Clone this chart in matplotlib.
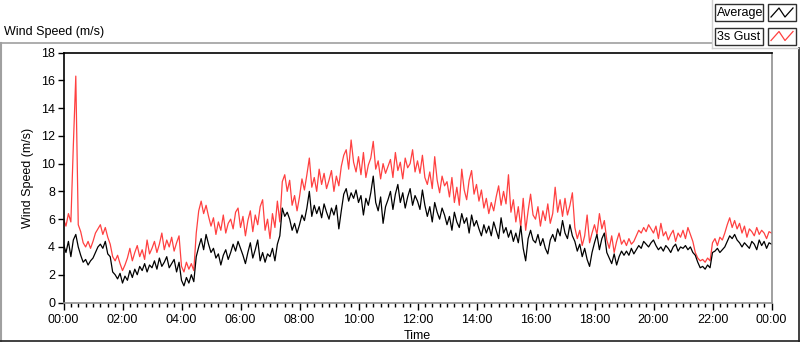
import numpy as np
import matplotlib
matplotlib.use("Agg")
import matplotlib.pyplot as plt
from matplotlib.lines import Line2D
from matplotlib.patches import Rectangle

plt.rcParams['font.family'] = ['Liberation Sans', 'DejaVu Sans']

# ---------------- data (5-minute samples, 00:00 .. 24:00) ----------------
minutes = np.arange(0, 24 * 60 + 1, 5)

average = [
    4.2, 3.6, 4.4, 3.3, 4.5, 4.9, 4.0, 3.4, 2.9, 3.1, 2.7, 3.0,
    3.2, 3.6, 4.0, 4.2, 3.9, 4.4, 3.5, 3.3, 2.2, 2.0, 1.7, 2.1,
    1.4, 1.9, 1.6, 2.3, 1.8, 2.4, 2.0, 2.6, 2.3, 2.8, 2.2, 2.7,
    2.5, 3.0, 2.4, 3.2, 2.6, 2.9, 3.3, 2.5, 2.8, 3.1, 2.2, 2.9,
    1.6, 1.2, 1.8, 1.4, 2.0, 1.5, 3.3, 4.0, 4.6, 3.8, 4.9, 4.2,
    3.6, 3.9, 3.2, 3.5, 2.7, 3.4, 3.8, 3.1, 3.6, 4.2, 3.7, 4.4,
    3.9, 3.4, 2.8, 3.6, 4.3, 3.2, 3.8, 4.5, 3.0, 3.6, 2.9, 3.5,
    3.3, 3.9, 3.0, 4.2, 4.8, 6.8, 6.2, 6.5, 6.0, 5.2, 5.7, 5.0,
    5.6, 6.3, 5.9, 6.8, 8.0, 6.2, 7.0, 6.4, 6.9, 6.1, 7.1, 6.5,
    6.0, 6.8, 6.3, 7.0, 5.3, 6.6, 7.8, 8.2, 7.3, 7.9, 7.5, 8.1,
    7.2, 7.7, 6.3, 7.5, 7.0, 7.9, 9.1, 7.2, 6.6, 7.6, 5.7, 6.9,
    7.4, 8.0, 6.7, 7.8, 8.5, 7.2, 7.9, 6.8, 7.6, 8.2, 7.0, 7.7,
    7.3, 6.7, 8.1, 7.0, 6.2, 6.9, 5.8, 7.2, 6.5, 6.0, 6.8, 6.3,
    5.6, 6.2, 5.2, 6.5, 5.8, 5.4, 6.4, 5.7, 6.1, 5.0, 6.3, 5.5,
    5.9, 5.3, 4.8, 5.6, 5.0, 5.5, 4.8, 5.8, 5.2, 4.6, 6.1, 5.0,
    5.4, 4.7, 5.2, 4.4, 5.0, 4.3, 5.5, 3.9, 3.0, 4.6, 5.2, 4.5,
    4.3, 4.9, 4.1, 4.6, 3.9, 3.5, 4.5, 4.9, 4.4, 5.3, 4.8, 5.9,
    5.0, 4.6, 5.6, 4.8, 4.4, 3.7, 4.2, 3.3, 3.9, 3.1, 2.6, 3.6,
    4.3, 4.9, 3.8, 4.6, 5.0, 3.6, 3.2, 2.8, 3.5, 2.7, 3.3, 3.7,
    3.4, 3.7, 3.4, 3.9, 3.5, 3.8, 4.1, 3.9, 4.4, 4.2, 4.0, 4.3,
    4.5, 4.1, 3.8, 4.0, 3.7, 4.1, 3.9, 3.6, 4.0, 4.2, 3.7, 4.0,
    3.9, 4.1, 3.8, 4.0, 3.6, 3.4, 2.9, 2.5, 2.6, 2.4, 2.7, 2.5,
    3.6, 3.7, 3.9, 3.6, 3.8, 4.0, 4.4, 4.8, 4.6, 4.9, 4.5, 4.3,
    4.0, 4.3, 4.1, 3.9, 4.4, 4.2, 3.8, 4.5, 4.1, 4.4, 3.9, 4.3,
    4.2,
]

gust_3s = [
    6.0, 5.5, 6.4, 5.8, 11.3, 16.3, 5.6, 5.1, 4.3, 4.0, 4.4, 3.9,
    4.4, 5.0, 5.3, 5.6, 4.9, 5.4, 4.7, 4.2, 3.3, 3.0, 3.4, 2.8,
    2.3, 2.7, 3.2, 3.9, 3.0, 3.6, 4.1, 3.3, 3.8, 3.1, 4.5, 3.5,
    3.9, 4.4, 3.6, 4.2, 5.0, 3.8, 4.5, 4.0, 4.7, 3.7, 4.3, 4.8,
    2.6, 2.2, 2.9, 2.4, 2.8, 2.3, 5.0, 6.6, 7.3, 6.4, 7.0, 6.2,
    5.5, 6.1, 4.9, 5.8, 5.2, 6.3, 5.0, 5.7, 6.0, 5.3, 6.5, 6.8,
    5.4, 6.2, 4.8, 5.9, 6.6, 5.1, 6.3, 5.6, 6.9, 7.4, 5.2, 6.0,
    4.6, 6.4, 5.4, 7.3, 5.8, 8.7, 9.2, 8.0, 8.8, 7.0, 7.7, 6.6,
    7.6, 8.9, 8.1, 9.2, 10.4, 8.3, 9.0, 8.0, 9.6, 8.5, 9.3, 8.2,
    8.8, 9.5, 8.0, 9.1, 8.4, 9.8, 10.6, 11.0, 9.6, 11.7, 10.1, 9.4,
    10.5, 9.2, 10.8, 9.0, 9.9, 10.4, 11.6, 9.6, 10.2, 8.9, 10.0, 9.3,
    9.8, 10.3, 9.0, 10.8, 9.5, 10.1, 8.9, 10.4, 9.7, 10.0, 11.0, 9.4,
    10.2, 9.3, 10.6, 9.0, 8.5, 9.4, 8.2, 10.5, 8.8, 7.9, 9.1, 8.4,
    8.7, 7.6, 9.0, 7.2, 8.3, 7.0, 9.6, 8.1, 7.4, 8.8, 9.5, 7.8,
    8.5, 7.3, 8.1, 6.8, 7.5, 6.4, 7.2, 6.6, 7.6, 8.4, 7.0, 8.0,
    7.1, 9.2, 6.5, 7.4, 5.8, 6.9, 5.4, 7.5, 5.2, 6.6, 7.8, 6.3,
    6.0, 6.9, 5.5, 6.6, 5.9, 7.1, 5.7, 6.4, 8.3, 6.5, 7.4, 6.2,
    7.5, 6.3, 7.0, 7.9, 5.4, 4.6, 5.2, 4.1, 4.8, 6.3, 4.3, 5.0,
    5.6, 4.9, 6.4, 5.3, 5.9, 4.5, 3.9, 4.8, 3.6, 4.4, 5.0, 4.2,
    4.5, 4.1, 4.6, 4.2, 4.4, 4.8, 5.2, 5.0, 5.4, 5.1, 5.6, 5.3,
    5.0, 5.5, 4.6, 5.7, 4.8, 5.1, 4.5, 4.9, 5.2, 4.4, 5.0, 4.7,
    5.2, 4.6, 5.4, 4.9, 4.4, 3.6, 3.2, 3.0, 3.1, 2.9, 3.2, 3.0,
    4.3, 4.6, 4.1, 4.7, 4.5, 5.0, 5.6, 6.1, 5.4, 5.9, 5.3, 5.7,
    5.0, 5.5, 4.7, 5.3, 5.1, 4.8, 5.4, 4.9, 5.2, 5.0, 4.6, 5.1,
    5.0,
]

series_names = ["Average", "3s Gust"]
series_colors = ["#000000", "#ff4040"]
hour_ticks = list(range(0, 25, 2))
hour_labels = ["00:00", "02:00", "04:00", "06:00", "08:00", "10:00", "12:00",
               "14:00", "16:00", "18:00", "20:00", "22:00", "00:00"]
y_ticks = list(range(0, 19, 2))

# ---------------- figure ----------------
W, H = 800, 342
fig = plt.figure(figsize=(W / 100, H / 100), dpi=100)
fig.patch.set_facecolor("white")

def fx(px):
    return px / W

def fy(py):
    return 1 - py / H

# axes placement (pixel coordinates of reference)
L, R, T, B = 63.5, 771.5, 52.5, 302.5
ax = fig.add_axes([fx(L), fy(B), (R - L) / W, (B - T) / H])

hours = minutes / 60.0
ax.plot(hours, gust_3s, color=series_colors[1], lw=0.9)
ax.plot(hours, average, color=series_colors[0], lw=0.9)

ax.set_xlim(0, 24)
ax.set_ylim(0, 18)
ax.set_xticks(hour_ticks)
ax.set_xticklabels(hour_labels)
ax.set_xticks(np.arange(0, 24.01, 0.25), minor=True)
ax.set_yticks(y_ticks)
ax.tick_params(axis='x', which='major', length=5, width=1, pad=3, labelsize=9)
ax.tick_params(axis='x', which='minor', length=3, width=1)
ax.tick_params(axis='y', which='major', length=4, width=1, pad=2, labelsize=9)

for s in ["top", "left"]:
    ax.spines[s].set_color("black")
    ax.spines[s].set_linewidth(1.2)
for s in ["right", "bottom"]:
    ax.spines[s].set_color("#909090")
    ax.spines[s].set_linewidth(1.2)

ax.set_xlabel("Time", fontsize=9, labelpad=3)
ax.set_ylabel("Wind Speed (m/s)", fontsize=9, labelpad=5)

# ---------------- outer frame & title ----------------
def fline(xs, ys, color, lw=1.0):
    fig.add_artist(Line2D([fx(v) for v in xs], [fy(v) for v in ys],
                          color=color, lw=lw, transform=fig.transFigure))

fline([0.5, 712], [42.5, 42.5], "#a0a0a0", 1.2)
fline([0.8, 0.8], [42.5, 342], "#a0a0a0", 1.5)
fline([0, 800], [340.5, 340.5], "#202020", 1.2)
fline([799, 799], [48, 342], "#202020", 1.2)
fline([712, 712], [0, 48], "#d0d0d0", 1.0)
fline([712, 798], [48, 48], "#d0d0d0", 1.0)

fig.text(fx(4), fy(32), "Wind Speed (m/s)", fontsize=9, va="center", ha="left")

# ---------------- legend ----------------
for i, (name, col) in enumerate(zip(series_names, series_colors)):
    top = 4 + i * 23.5
    h = 17
    fig.add_artist(Rectangle((fx(715), fy(top + h)), (763 - 715) / W, h / H,
                             transform=fig.transFigure, facecolor="white",
                             edgecolor="#303030", lw=1.0))
    fig.text(fx(717), fy(top + h / 2 + 0.5), name, fontsize=9, va="center", ha="left")
    fig.add_artist(Rectangle((fx(768), fy(top + h)), (796 - 768) / W, h / H,
                             transform=fig.transFigure, facecolor="white",
                             edgecolor="#303030", lw=1.0))
    sx = [771, 779, 785, 793]
    sy = [top + 13, top + 4, top + 13, top + 4]
    fline(sx, sy, col, 0.9)

fig.savefig("out.png", dpi=100, facecolor="white")
